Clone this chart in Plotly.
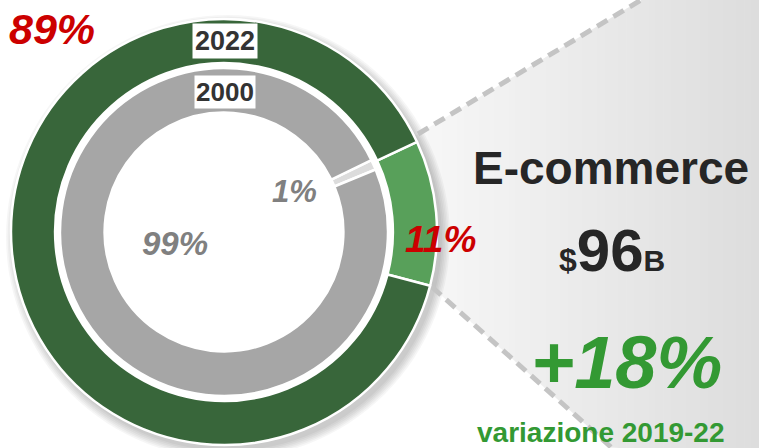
import math
import plotly.graph_objects as go

# ---- data ----
years = ["2022", "2000"]
segments = ["E-commerce", "Altro"]
share_2022 = [11, 89]
share_2000 = [1, 99]
ecommerce_value_b = 96
growth_pct = 18
growth_period = "variazione 2019-22"

W, H = 759, 448
FONT = "Liberation Sans, Arial, sans-serif"
RED = "#cc0000"
GREEN_TXT = "#339933"

fig = go.Figure()

# invisible pixel-space axes
fig.add_trace(go.Scatter(x=[0, W], y=[0, H], mode="markers",
                         marker=dict(opacity=0), hoverinfo="skip", showlegend=False))

cx, cy = 224, 232
r_out, r_in = 213, 164


def dom(r):
    return dict(x=[(cx - r) / W, (cx + r) / W],
                y=[(H - cy - r) / H, (H - cy + r) / H])


fig.add_trace(go.Pie(values=share_2022, labels=segments, sort=False,
                     direction="clockwise", rotation=65, hole=0.793,
                     domain=dom(r_out), textinfo="none", hoverinfo="label+percent",
                     marker=dict(colors=["#58a05a", "#38663a"],
                                 line=dict(color="white", width=2.5)),
                     showlegend=False))
fig.add_trace(go.Pie(values=share_2000, labels=segments, sort=False,
                     direction="clockwise", rotation=64, hole=0.728,
                     domain=dom(r_in), textinfo="none", hoverinfo="label+percent",
                     marker=dict(colors=["#dcdcdc", "#a6a6a6"],
                                 line=dict(color="white", width=2.5)),
                     showlegend=False))

shapes = []
# gradient wedge behind the text
p_top0, p_top1 = (418, 134), (641, 0)
p_bot0, p_bot1 = (432, 287), (612, 448)


def ytop(x):
    s = (p_top1[1] - p_top0[1]) / (p_top1[0] - p_top0[0])
    return max(0, p_top0[1] + s * (x - p_top0[0]))


def ybot(x):
    s = (p_bot1[1] - p_bot0[1]) / (p_bot1[0] - p_bot0[0])
    return min(H, p_bot0[1] + s * (x - p_bot0[0]))


n = 48
x0s = 405
for i in range(n):
    xa = x0s + (W - x0s) * i / n
    xb = x0s + (W - x0s) * (i + 1) / n + 0.6
    t = i / (n - 1)
    g = int(round(248 - (248 - 221) * t))
    col = f"rgb({g},{g},{g})"
    path = (f"M{xa},{ytop(xa)} L{xb},{ytop(xb)} L{xb},{ybot(xb)} L{xa},{ybot(xa)} Z")
    shapes.append(dict(type="path", path=path, xref="x", yref="y",
                       fillcolor=col, line=dict(width=0), layer="below"))


# soft shadow of the ring (annulus polygons, hole left open)
def annulus(x, y, r1, r2, m=120):
    outer = [(x + r2 * math.cos(2 * math.pi * k / m), y + r2 * math.sin(2 * math.pi * k / m))
             for k in range(m)]
    inner = [(x + r1 * math.cos(-2 * math.pi * k / m), y + r1 * math.sin(-2 * math.pi * k / m))
             for k in range(m)]
    p = "M" + " L".join(f"{a:.1f},{b:.1f}" for a, b in outer) + " Z "
    p += "M" + " L".join(f"{a:.1f},{b:.1f}" for a, b in inner) + " Z"
    return p


for k in range(6):
    rr = r_out + 1 + k * 1.6
    shapes.append(dict(type="path", xref="x", yref="y",
                       path=annulus(cx + 4, cy + 5, 190, rr),
                       fillcolor="rgba(0,0,0,0.035)", line=dict(width=0), layer="below"))

# dashed leader lines
dash_style = dict(color="#c4c4c4", width=5, dash="12px,7px")
shapes.append(dict(type="line", xref="x", yref="y", x0=p_top0[0], y0=p_top0[1],
                   x1=p_top1[0], y1=p_top1[1], line=dash_style, layer="below"))
shapes.append(dict(type="line", xref="x", yref="y", x0=p_bot0[0], y0=p_bot0[1],
                   x1=p_bot1[0], y1=p_bot1[1], line=dash_style, layer="below"))

ann = []


def add(text, x, y, size, color, bold=True, italic=False, bg=None, pad=1):
    t = text
    if bold:
        t = f"<b>{t}</b>"
    if italic:
        t = f"<i>{t}</i>"
    a = dict(text=t, x=x, y=y, xref="x", yref="y", showarrow=False,
             font=dict(family=FONT, size=size, color=color),
             xanchor="center", yanchor="middle")
    if bg:
        a.update(bgcolor=bg, borderpad=pad)
    ann.append(a)


add(f"{share_2022[1]}%", 52, 29, 43, RED, italic=True)
add(f"{share_2022[0]}%", 440, 239, 37, RED, italic=True)
add(years[0], 225, 41, 27, "#333333", bg="white", pad=2)
add(years[1], 225, 92, 26, "#333333", bg="white", pad=1)
add(f"{share_2000[0]}%", 294, 191, 31, "#808080", italic=True)
add(f"{share_2000[1]}%", 175, 243, 33, "#808080", italic=True)
add(segments[0], 611, 168, 46, "#262626")
add(f'<span style="font-size:32px">$</span>{ecommerce_value_b}'
    f'<span style="font-size:30px">B</span>', 612, 250, 60, "#262626")
add(f"+{growth_pct}%", 626, 362, 74, GREEN_TXT, italic=True)
add(growth_period, 601, 432, 28, GREEN_TXT)

fig.update_layout(width=W, height=H, margin=dict(l=0, r=0, t=0, b=0),
                  paper_bgcolor="white", plot_bgcolor="white",
                  xaxis=dict(range=[0, W], visible=False, fixedrange=True),
                  yaxis=dict(range=[H, 0], visible=False, fixedrange=True),
                  shapes=shapes, annotations=ann, showlegend=False)

fig.write_html("out.html", config={"displayModeBar": False},
               post_script="document.body.style.margin='0';"
                           "document.body.style.overflow='hidden';")
